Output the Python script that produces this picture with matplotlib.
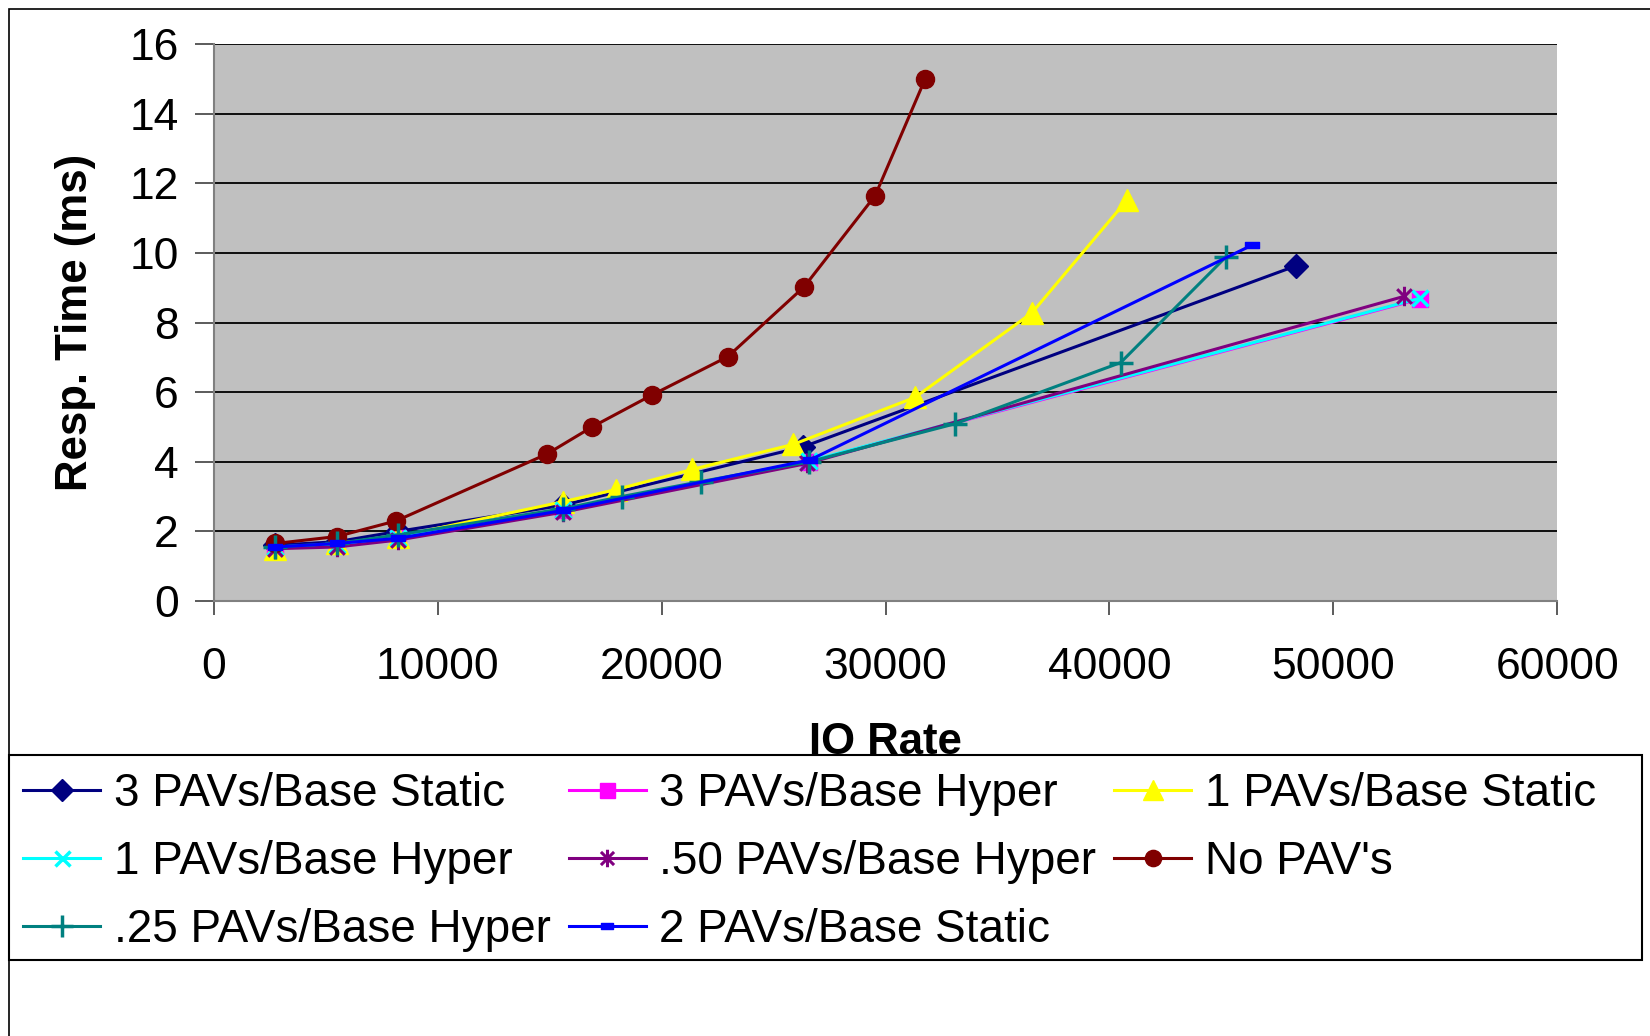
import matplotlib
matplotlib.use("Agg")
import matplotlib.pyplot as plt
from matplotlib.path import Path
from matplotlib.patches import Rectangle

plt.rcParams['font.family'] = ['Liberation Sans', 'DejaVu Sans']

# --- data -----------------------------------------------------------------
labels = ["3 PAVs/Base Static", "3 PAVs/Base Hyper", "1 PAVs/Base Static",
          "1 PAVs/Base Hyper", ".50 PAVs/Base Hyper", "No PAV's",
          ".25 PAVs/Base Hyper", "2 PAVs/Base Static"]

static3_x = [2750, 5500, 8250, 15600, 26330, 48330]
static3_y = [1.6, 1.7, 2.0, 2.75, 4.43, 9.63]

hyper3_x = [2750, 5500, 8250, 15600, 26600, 53870]
hyper3_y = [1.55, 1.6, 1.8, 2.6, 4.0, 8.68]

static1_x = [2750, 5500, 8250, 15600, 17970, 21380, 25890, 31320, 36540, 40780]
static1_y = [1.5, 1.65, 1.85, 2.85, 3.2, 3.78, 4.5, 5.85, 8.28, 11.52]

hyper1_x = [2750, 5500, 8250, 15600, 26600, 53870]
hyper1_y = [1.55, 1.62, 1.82, 2.62, 4.02, 8.7]

hyper050_x = [2750, 5500, 8250, 15600, 26500, 53140]
hyper050_y = [1.5, 1.55, 1.75, 2.55, 3.95, 8.75]

nopav_x = [2750, 5500, 8150, 14880, 16900, 19580, 22960, 26370, 29540, 31770]
nopav_y = [1.65, 1.85, 2.3, 4.22, 5.0, 5.92, 7.02, 9.03, 11.65, 15.0]

hyper025_x = [2750, 5500, 8250, 15600, 18230, 21750, 26600, 33100, 40500, 45190]
hyper025_y = [1.55, 1.65, 1.9, 2.65, 3.0, 3.43, 4.0, 5.09, 6.85, 9.88]

static2_x = [2750, 5500, 8250, 15600, 26620, 46380]
static2_y = [1.55, 1.65, 1.8, 2.6, 4.05, 10.23]

x_ticks = [0, 10000, 20000, 30000, 40000, 50000, 60000]
y_ticks = [0, 2, 4, 6, 8, 10, 12, 14, 16]

# --- marker shapes ----------------------------------------------------------
star6 = Path([(0, -1), (0, 1), (-0.75, -0.75), (0.75, 0.75), (-0.75, 0.75), (0.75, -0.75)],
             [Path.MOVETO, Path.LINETO, Path.MOVETO, Path.LINETO, Path.MOVETO, Path.LINETO])
dash = Path([(-1, -0.45), (1, -0.45), (1, 0.45), (-1, 0.45), (-1, -0.45)],
            [Path.MOVETO, Path.LINETO, Path.LINETO, Path.LINETO, Path.CLOSEPOLY])

series = [
    (static3_x, static3_y, "#000080", dict(marker="D", ms=12)),
    (hyper3_x, hyper3_y, "#FF00FF", dict(marker="s", ms=12)),
    (static1_x, static1_y, "#FFFF00", dict(marker="^", ms=16)),
    (hyper1_x, hyper1_y, "#00FFFF", dict(marker="x", ms=12, mew=2.5)),
    (hyper050_x, hyper050_y, "#800080", dict(marker=star6, ms=14, mew=2.2, mfc="none")),
    (nopav_x, nopav_y, "#800000", dict(marker="o", ms=13)),
    (hyper025_x, hyper025_y, "#008080", dict(marker="+", ms=17, mew=2.5)),
    (static2_x, static2_y, "#0000FF", dict(marker=dash, ms=10)),
]

W, H = 1650, 1036
fig = plt.figure(figsize=(W / 100, H / 100), dpi=100)
fig.patch.set_facecolor("white")

# outer chart border (runs past the right and bottom edges)
fig.patches.append(Rectangle((8.5 / W, -0.05), 1.1, 1.05 - 8.5 / H,
                             transform=fig.transFigure, fill=False,
                             edgecolor="black", linewidth=1.2, zorder=0))

L, R, T, B = 213.6, 1557.4, 44.2, 600.9
ax = fig.add_axes([L / W, 1 - B / H, (R - L) / W, (B - T) / H])
ax.set_facecolor("#C0C0C0")
ax.set_xlim(0, 60000)
ax.set_ylim(0, 16)
ax.set_xticks(x_ticks)
ax.set_yticks(y_ticks)
ax.set_xticklabels([str(v) for v in x_ticks])
ax.set_yticklabels([str(v) for v in y_ticks])
ax.yaxis.grid(True, color="black", linewidth=1.3)
ax.set_axisbelow(True)
for side in ("top", "right"):
    ax.spines[side].set_visible(False)
for side in ("left", "bottom"):
    ax.spines[side].set_color("#808080")
    ax.spines[side].set_linewidth(1.5)
ax.tick_params(axis="y", direction="out", length=14, width=1.2, color="#404040",
               labelsize=32, pad=11)
ax.tick_params(axis="x", direction="out", length=10, width=1.2, color="#404040",
               labelsize=32, pad=23)

handles = []
for i, (xs, ys, c, mk) in enumerate(series):
    mk = dict(mk)
    mk.setdefault("mfc", c)
    h, = ax.plot(xs, ys, color=c, lw=2.2, mec=c, zorder=3 + i, clip_on=False, **mk)
    handles.append(h)

ax.set_ylabel("Resp. Time (ms)", fontsize=31.5, fontweight="bold")
ax.yaxis.set_label_coords(-(L - 96) / (R - L), 0.5)
ax.set_xlabel("IO Rate", fontsize=31.5, fontweight="bold")
ax.xaxis.set_label_coords(0.5, -(722 - B) / (B - T))

# legend box (white, drawn over the bottom of the x title)
fig.patches.append(Rectangle((8.5 / W, 1 - 959.7 / H), (1641.5 - 8.5) / W, (959.7 - 754.5) / H,
                             transform=fig.transFigure, facecolor="white",
                             edgecolor="black", linewidth=1.5, zorder=10))

order = [0, 3, 6, 1, 4, 7, 2, 5]
leg = fig.legend([handles[i] for i in order], [labels[i] for i in order],
                 loc="upper left", bbox_to_anchor=(23 / W, 1 - 772 / H),
                 ncol=3, frameon=False, fontsize=33, borderpad=0, borderaxespad=0,
                 handlelength=1.68, handletextpad=0.30, columnspacing=0.39,
                 labelspacing=0.52, numpoints=1, markerscale=0.9)
leg.set_zorder(11)

fig.savefig("out.png", dpi=100)
